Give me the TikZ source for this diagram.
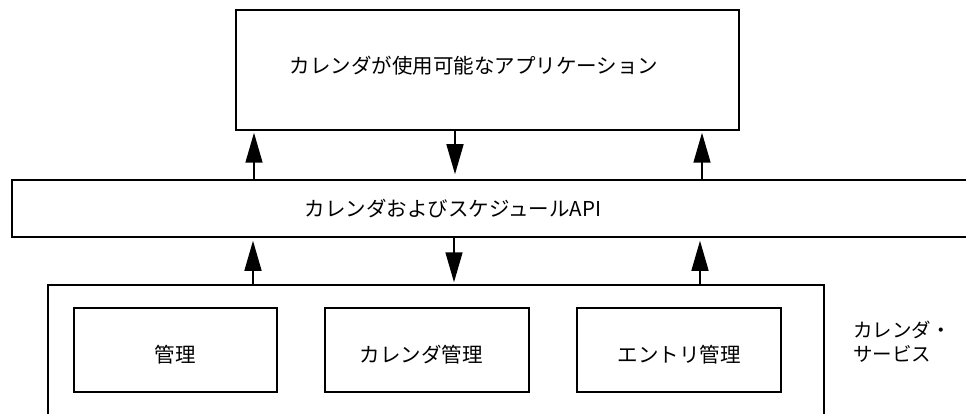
\documentclass[tikz,border=0pt]{standalone}
\usepackage{fontspec}
\setmainfont{Noto Sans CJK JP}
\usetikzlibrary{arrows.meta}

\tikzset{
	box/.style={draw, line width=1.5pt, inner sep=0pt},
	lbl/.style={inner sep=0pt, font=\fontsize{20.5}{24}\selectfont},
	flow/.style={line width=1.5pt, -{Triangle[length=30pt,width=17pt]}}
}

\begin{document}
\begin{tikzpicture}[x=1pt,y=1pt]
	
	\useasboundingbox (0,0) rectangle (966,-414);
	
	\node[box, minimum width=503pt, minimum height=120pt] (app) at (487.5,-70) {};
	\node[lbl] (applbl) at (474,-66) {カレンダが使用可能なアプリケーション};
	
	\node[box, minimum width=968pt, minimum height=57pt] (api) at (496,-208.5) {};
	\node[lbl] (apilbl) at (453,-209) {カレンダおよびスケジュールAPI};
	
	\node[box, minimum width=776pt, minimum height=145pt] (svc) at (436,-357.5) {};
	\node[box, minimum width=203pt, minimum height=84pt] (mgmt) at (175.5,-350) {};
	\node[lbl] at (175,-355) {管理};
	\node[box, minimum width=204pt, minimum height=84pt] (calmgmt) at (427,-350) {};
	\node[lbl] at (421,-355) {カレンダ管理};
	\node[box, minimum width=204pt, minimum height=84pt] (entmgmt) at (679,-350) {};
	\node[lbl] at (679,-355) {エントリ管理};
	\node[lbl, align=left, anchor=north west, font=\fontsize{19.5}{24}\selectfont] (svclbl) at (853,-321) {カレンダ・\\サービス};
	
	
	\draw[flow] (api.north -| 254,0) -- ([yshift=-2pt]app.south -| 254,0);
	\draw[flow] (app.south -| 455,0) -- ([yshift=5pt]api.north -| 455,0);
	\draw[flow] (api.north -| 702,0) -- ([yshift=-2pt]app.south -| 702,0);
	
	\draw[flow] (svc.north -| 253,0) -- ([yshift=-3pt]api.south -| 253,0);
	\draw[flow] (api.south -| 454,0) -- ([yshift=2pt]svc.north -| 454,0);
	\draw[flow] (svc.north -| 700,0) -- ([yshift=-3pt]api.south -| 700,0);
	
\end{tikzpicture}
\end{document}
